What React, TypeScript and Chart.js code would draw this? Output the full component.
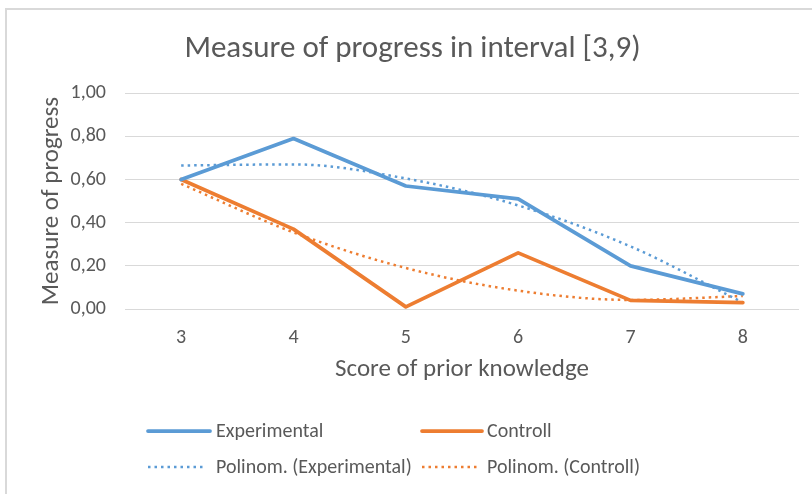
import React, { useEffect, useRef } from "react";
import { Chart, registerables } from "chart.js";

Chart.register(...registerables);

const categories = ["3", "4", "5", "6", "7", "8"];
const experimental = [0.6, 0.79, 0.57, 0.51, 0.2, 0.07];
const controll = [0.6, 0.37, 0.01, 0.26, 0.04, 0.03];
const polyExperimental = [0.665, 0.67, 0.605, 0.48, 0.29, 0.03];
const polyControll = [0.58, 0.355, 0.19, 0.085, 0.042, 0.06];
const yTickValues = [0, 0.2, 0.4, 0.6, 0.8, 1.0];

const BLUE = "#5B9BD5";
const ORANGE = "#ED7D31";
const TEXT = "#595959";
const GRID = "#d9d9d9";
const FONT = "Carlito, 'Open Sans', sans-serif";

const legendPlugin = {
  id: "gridLegend",
  afterDraw(chart: any) {
    const ctx = chart.ctx;
    const cells = [
      { ds: 0, sx: 148, ex: 210, tx: 216, y: 431 },
      { ds: 1, sx: 422, ex: 482, tx: 487, y: 431 },
      { ds: 2, sx: 148, ex: 204, tx: 216, y: 467 },
      { ds: 3, sx: 422, ex: 478, tx: 487, y: 467 },
    ];
    ctx.save();
    for (const c of cells) {
      const d = chart.data.datasets[c.ds];
      ctx.beginPath();
      ctx.strokeStyle = d.borderColor;
      ctx.lineWidth = d.borderWidth;
      ctx.lineCap = d.borderDash && d.borderDash.length ? "butt" : "round";
      ctx.setLineDash(d.borderDash || []);
      ctx.moveTo(c.sx, c.y);
      ctx.lineTo(c.ex, c.y);
      ctx.stroke();
      ctx.setLineDash([]);
      ctx.fillStyle = TEXT;
      ctx.font = `20px ${FONT}`;
      ctx.textAlign = "left";
      ctx.textBaseline = "middle";
      ctx.fillText(d.label, c.tx, c.y + 1);
    }
    ctx.restore();
  },
};

export default function App() {
  const ref = useRef<HTMLCanvasElement | null>(null);

  useEffect(() => {
    if (!ref.current) return;
    const chart = new Chart(ref.current, {
      type: "line",
      data: {
        labels: categories,
        datasets: [
          {
            label: "Experimental",
            data: experimental,
            borderColor: BLUE,
            backgroundColor: BLUE,
            borderWidth: 3.75,
            pointRadius: 0,
            tension: 0,
            borderCapStyle: "round",
            borderJoinStyle: "round",
          },
          {
            label: "Controll",
            data: controll,
            borderColor: ORANGE,
            backgroundColor: ORANGE,
            borderWidth: 3.75,
            pointRadius: 0,
            tension: 0,
            borderCapStyle: "round",
            borderJoinStyle: "round",
          },
          {
            label: "Polinom. (Experimental)",
            data: polyExperimental,
            borderColor: BLUE,
            backgroundColor: BLUE,
            borderWidth: 2.5,
            borderDash: [2.5, 4],
            pointRadius: 0,
            cubicInterpolationMode: "monotone",
          },
          {
            label: "Polinom. (Controll)",
            data: polyControll,
            borderColor: ORANGE,
            backgroundColor: ORANGE,
            borderWidth: 2.5,
            borderDash: [2.5, 4],
            pointRadius: 0,
            cubicInterpolationMode: "monotone",
          },
        ],
      },
      options: {
        responsive: false,
        animation: false,
        layout: { padding: { top: 0, left: 26, right: 13, bottom: 105 } },
        plugins: {
          legend: { display: false },
          tooltip: { enabled: false },
          title: {
            display: true,
            text: "Measure of progress in interval [3,9)",
            color: TEXT,
            font: { family: FONT, size: 31, weight: "normal" },
            padding: { top: 31, bottom: 25 },
          },
        },
        scales: {
          x: {
            type: "category",
            offset: true,
            grid: { display: false },
            border: { display: false },
            ticks: {
              color: TEXT,
              font: { family: FONT, size: 20 },
              padding: 9,
            },
            title: {
              display: true,
              text: "Score of prior knowledge",
              color: TEXT,
              font: { family: FONT, size: 25 },
              padding: { top: 0, bottom: 4 },
            },
            afterFit(scale: any) {
              scale.height = 80;
            },
          },
          y: {
            min: 0,
            max: 1,
            grid: { color: GRID, drawTicks: false, lineWidth: 1 },
            border: { display: false },
            afterBuildTicks(scale: any) {
              scale.ticks = yTickValues.map((v) => ({ value: v }));
            },
            ticks: {
              color: TEXT,
              font: { family: FONT, size: 20 },
              padding: 19,
              callback: (v: any) => Number(v).toFixed(2).replace(".", ","),
            },
            title: {
              display: true,
              text: "Measure of progress",
              color: TEXT,
              font: { family: FONT, size: 25 },
              padding: { top: 11, bottom: 0 },
            },
            afterFit(scale: any) {
              scale.width = 99;
            },
          },
        },
      },
      plugins: [legendPlugin],
    } as any);
    return () => chart.destroy();
  }, []);

  return (
    <div
      style={{
        position: "fixed",
        left: 0,
        top: 0,
        width: 812,
        height: 494,
        overflow: "hidden",
        background: "#ffffff",
      }}
    >
      <div
        style={{
          position: "absolute",
          left: 5,
          top: 8,
          width: 900,
          height: 600,
          border: "2px solid #d9d9d9",
          boxSizing: "border-box",
        }}
      />
      <canvas
        ref={ref}
        width={812}
        height={494}
        style={{ position: "absolute", left: 0, top: 0, width: 812, height: 494 }}
      />
    </div>
  );
}
